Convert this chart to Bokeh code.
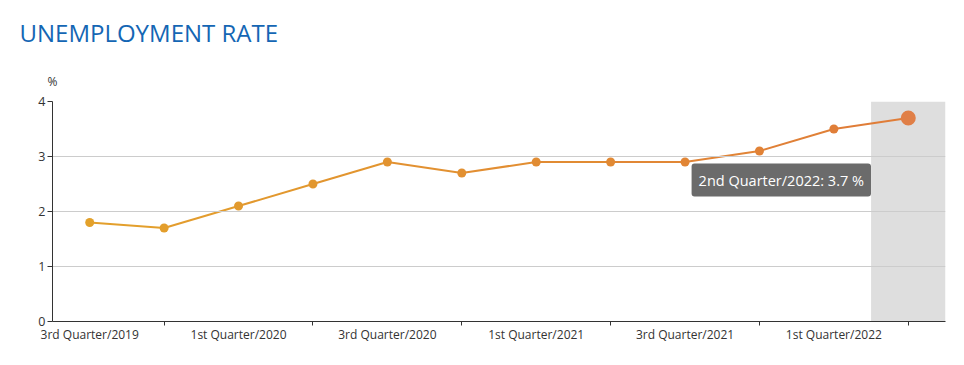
from bokeh.plotting import figure
from bokeh.models import FixedTicker, Label, BoxAnnotation, Range1d, ColumnDataSource, Title
from bokeh.embed import file_html
from bokeh.resources import INLINE

quarters = ["3rd Quarter/2019", "4th Quarter/2019", "1st Quarter/2020", "2nd Quarter/2020",
            "3rd Quarter/2020", "4th Quarter/2020", "1st Quarter/2021", "2nd Quarter/2021",
            "3rd Quarter/2021", "4th Quarter/2021", "1st Quarter/2022", "2nd Quarter/2022"]
rates = [1.8, 1.7, 2.1, 2.5, 2.9, 2.7, 2.9, 2.9, 2.9, 3.1, 3.5, 3.7]
y_ticks = [0, 1, 2, 3, 4]
title_text = "UNEMPLOYMENT RATE"
unit_text = "%"

FONT = "Open Sans"
n = len(quarters)
xs = [i + 0.5 for i in range(n)]

c0 = (227, 161, 43)
c1 = (224, 123, 57)
def mix(t):
    return "#%02x%02x%02x" % tuple(int(round(a + (b - a) * t)) for a, b in zip(c0, c1))

p = figure(width=964, height=365, output_backend="svg", toolbar_location=None,
           x_range=Range1d(0, n), y_range=Range1d(0, 4),
           min_border_left=52, min_border_right=19, min_border_top=101, min_border_bottom=44)
p.outline_line_color = None
p.background_fill_color = "white"
p.border_fill_color = "white"

# main title (outer) and unit label (closest to the frame)
p.title.text = title_text
p.title.text_font = FONT
p.title.text_font_size = "24px"
p.title.text_font_style = "normal"
p.title.text_color = "#1466b4"
p.title.align = "left"
p.title.offset = -33
p.title.standoff = 21

unit_title = Title(text=unit_text, text_font=FONT, text_font_size="12px",
                   text_font_style="normal", text_color="#333333",
                   align="left", offset=-5, standoff=23)
p.add_layout(unit_title, "above")

# highlight band for hovered category
p.add_layout(BoxAnnotation(left=n - 1, right=n, fill_color="#dedede", fill_alpha=1.0,
                           line_color=None, level="underlay"))

p.xgrid.visible = False
p.ygrid.grid_line_color = "#cccccc"
p.ygrid.level = "glyph"

# x axis
xa = p.xaxis[0]
xa.ticker = FixedTicker(ticks=xs[0::2], minor_ticks=xs[1::2])
xa.major_label_overrides = {xs[i]: quarters[i] for i in range(0, n, 2)}
xa.major_tick_out = 0
xa.major_tick_in = 0
xa.minor_tick_out = 4
xa.minor_tick_in = 0
xa.minor_tick_line_color = "#333333"
xa.axis_line_color = "#333333"
xa.major_label_standoff = 0
xa.major_label_text_font = FONT
xa.major_label_text_font_size = "12px"
xa.major_label_text_color = "#333333"

# y axis
ya = p.yaxis[0]
ya.ticker = FixedTicker(ticks=y_ticks, minor_ticks=[])
ya.major_tick_out = 5
ya.major_tick_in = 0
ya.major_tick_line_color = "#333333"
ya.axis_line_color = "#333333"
ya.major_label_standoff = 2
ya.major_label_text_font = FONT
ya.major_label_text_font_size = "12.5px"
ya.major_label_text_color = "#333333"

# line with gradient colours
seg = ColumnDataSource(dict(x0=xs[:-1], y0=rates[:-1], x1=xs[1:], y1=rates[1:],
                            c=[mix((i + 0.5) / (n - 1)) for i in range(n - 1)]))
p.segment("x0", "y0", "x1", "y1", source=seg, line_color="c", line_width=2)

pts = ColumnDataSource(dict(x=xs[:-1], y=rates[:-1], c=[mix(i / (n - 1)) for i in range(n - 1)]))
p.scatter("x", "y", source=pts, size=9, fill_color="c", line_color=None)
p.scatter([xs[-1]], [rates[-1]], size=15, fill_color="#e07f47", line_color=None)

# tooltip
tip = "%s: %s %%" % (quarters[-1], rates[-1])
p.add_layout(Label(x=xs[-1], y=rates[-1], x_offset=-127, y_offset=-62, text=tip,
                   text_font=FONT, text_font_size="14.5px", text_color="white",
                   text_baseline="middle", text_align="center",
                   background_fill_color="#6b6b6b", background_fill_alpha=1.0,
                   padding=dict(left=7, right=7, top=7, bottom=7), border_radius=3))

open("out.html", "w").write(file_html(p, INLINE))
